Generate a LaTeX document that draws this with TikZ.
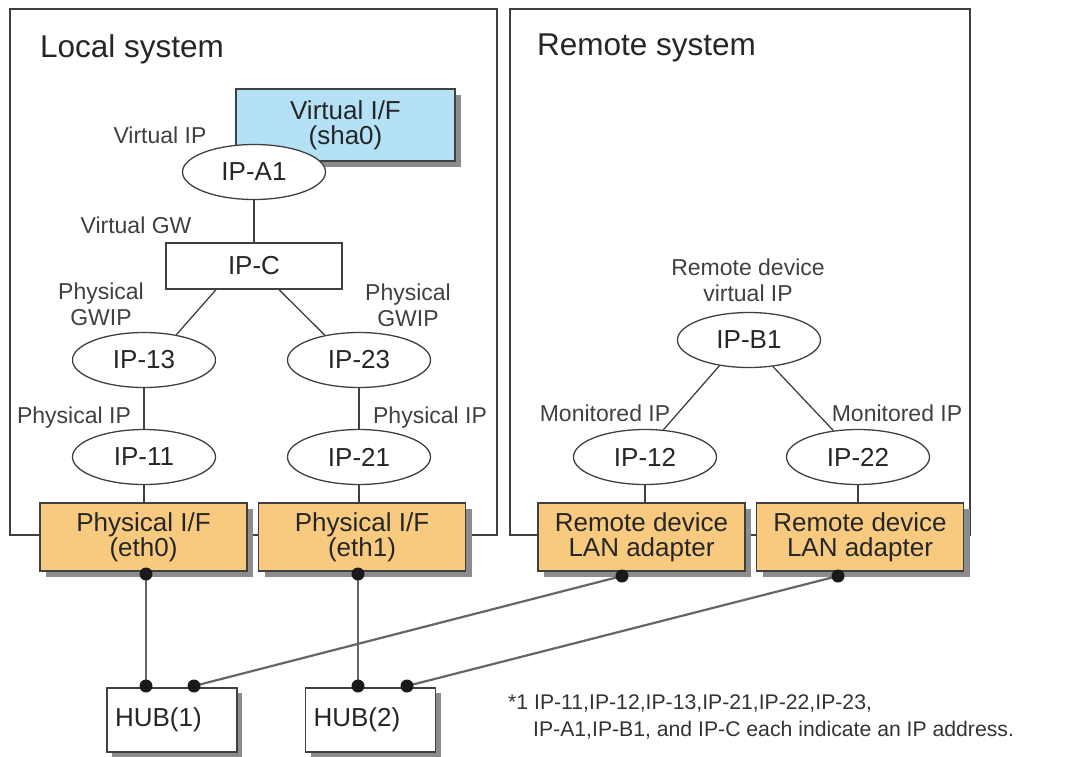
\documentclass[tikz,border=0pt]{standalone}
\usepackage{fontspec}
\setmainfont{Liberation Sans}
\usetikzlibrary{shapes.geometric,shadows}
\definecolor{ifcol}{HTML}{F8CA80}
\definecolor{vifcol}{HTML}{B4E1F6}
\definecolor{linecol}{HTML}{404040}
\definecolor{wirecol}{HTML}{666666}
\begin{document}
\begin{tikzpicture}[x=1pt,y=-1pt,
	every node/.style={text=black!85},
	ipnode/.style={ellipse,draw=linecol,line width=1.3pt,fill=white,
		minimum width=143pt,minimum height=55pt,inner sep=0pt,
		font=\fontsize{26}{25}\selectfont},
	ipbox/.style={rectangle,draw=linecol,line width=1.3pt,fill=white,
		minimum width=176pt,minimum height=46pt,inner sep=0pt,
		font=\fontsize{26}{25}\selectfont},
	ifbox/.style={rectangle,draw=linecol,line width=1.3pt,fill=ifcol,
		minimum width=207pt,minimum height=68pt,inner sep=0pt,align=center,
		font=\fontsize{26}{25}\selectfont,
		drop shadow={shadow xshift=6pt,shadow yshift=-6pt,fill=black!45,opacity=1}},
	hubbox/.style={rectangle,draw=linecol,line width=1.3pt,fill=white,
		minimum height=64pt,text width=114pt,inner xsep=8pt,align=left,
		font=\fontsize{26}{25}\selectfont,
		drop shadow={shadow xshift=5pt,shadow yshift=-5pt,fill=black!45,opacity=1}},
	lbl/.style={inner sep=0pt,align=center,text=black!75,font=\fontsize{23}{26}\selectfont},
	sysbox/.style={draw=linecol,line width=1.3pt},
	wire/.style={draw=wirecol,line width=2.2pt},
	link/.style={draw=linecol,line width=1.3pt}
	]
	\useasboundingbox (0,0) rectangle (1073,756);
	
	% systems
	\draw[sysbox] (10,9) rectangle (497,535);
	\draw[sysbox] (510,9) rectangle (970,535);
	\node[anchor=west,inner sep=0pt,font=\fontsize{31.5}{30}\selectfont] (loc) at (40,49) {Local system};
	\node[anchor=west,inner sep=0pt,font=\fontsize{31.5}{30}\selectfont] (rem) at (537,48) {Remote system};
	
	% local side
	\node[ifbox,fill=vifcol,minimum width=219pt,minimum height=72pt] (sha0) at (345.5,125) {Virtual I/F\\(sha0)};
	\node[ipnode] (ipa1) at (254,172) {IP-A1};
	\node[ipbox] (ipc) at (254,266) {IP-C};
	\node[ipnode] (ip13) at (144,360) {IP-13};
	\node[ipnode] (ip23) at (359,360) {IP-23};
	\node[ipnode] (ip11) at (144,457) {IP-11};
	\node[ipnode] (ip21) at (359,457) {IP-21};
	\node[ifbox] (eth0) at (143.5,537) {Physical I/F\\(eth0)};
	\node[ifbox] (eth1) at (362,537) {Physical I/F\\(eth1)};
	
	\node[lbl] (l1) at (160,135) {Virtual IP};
	\node[lbl] (l2) at (136,225) {Virtual GW};
	\node[lbl] (l3) at (101,304) {Physical\\GWIP};
	\node[lbl] (l4) at (408,305) {Physical\\GWIP};
	\node[lbl] (l5) at (74,418) {Physical IP};
	\node[lbl] (l6) at (430,418) {Physical IP};
	
	% remote side
	\node[ipnode] (ipb1) at (749,340) {IP-B1};
	\node[ipnode] (ip12) at (645,457) {IP-12};
	\node[ipnode] (ip22) at (858,457) {IP-22};
	\node[ifbox] (lan1) at (641.5,537) {Remote device\\LAN adapter};
	\node[ifbox] (lan2) at (860,537) {Remote device\\LAN adapter};
	
	\node[lbl] (l7) at (748,280) {Remote device\\virtual IP};
	\node[lbl] (l8) at (605,413) {Monitored IP};
	\node[lbl] (l9) at (897,413) {Monitored IP};
	
	% hubs
	\node[hubbox] (hub1) at (172,720) {HUB(1)};
	\node[hubbox] (hub2) at (370.5,720) {HUB(2)};
	
	\foreach \x/\y in
	{ipa1/ipc,ip13/ip11}{
		\draw[link] (\x.south) -- (\x.south |- \y.north);
	}
	\draw[link] (ip23.south) -- (ip21.north);
	\draw[link] ([xshift=-38pt]ipc.south) -- (ip13.38);
	\draw[link] ([xshift=25pt]ipc.south) -- (ip23.144);
	\draw[link] (ipb1.221) -- (ip12.56);
	\draw[link] (ipb1.312) -- (ip22.133);
	\foreach \x/\y in
	{ip11/eth0,ip21/eth1,ip12/lan1,ip22/lan2}{
		\draw[link] (\x.south) -- (\x.south |- \y.north);
	}
	
	% wires to the hubs
	\foreach \x/\y in
	{e0/146, e1/358}{
		\coordinate(\x) at (\y,574);
	}
	\foreach \x/\y in
	{r1/622, r2/838}{
		\coordinate(\x) at (\y,576);
	}
	\foreach \x/\y in
	{h1a/146, h1b/194, h2a/358, h2b/407}{
		\coordinate(\x) at (\y,686);
	}
	\foreach \x/\y in
	{e0/h1a, e1/h2a, r1/h1b, r2/h2b}{
		\draw[wire] (\x) -- (\y);
	}
	\foreach \x in
	{e0,e1,r1,r2,h1a,h1b,h2a,h2b}{
		\fill[black!90] (\x) circle (6.5);
	}
	
	% note
	\node[anchor=west,inner sep=0pt,text=black!80,font=\fontsize{21.2}{26}\selectfont] (n1) at (508,703) {*1 IP-11,IP-12,IP-13,IP-21,IP-22,IP-23,};
	\node[anchor=west,inner sep=0pt,text=black!80,font=\fontsize{21.2}{26}\selectfont] (n2) at (533,730) {IP-A1,IP-B1, and IP-C each indicate an IP address.};
\end{tikzpicture}
\end{document}
